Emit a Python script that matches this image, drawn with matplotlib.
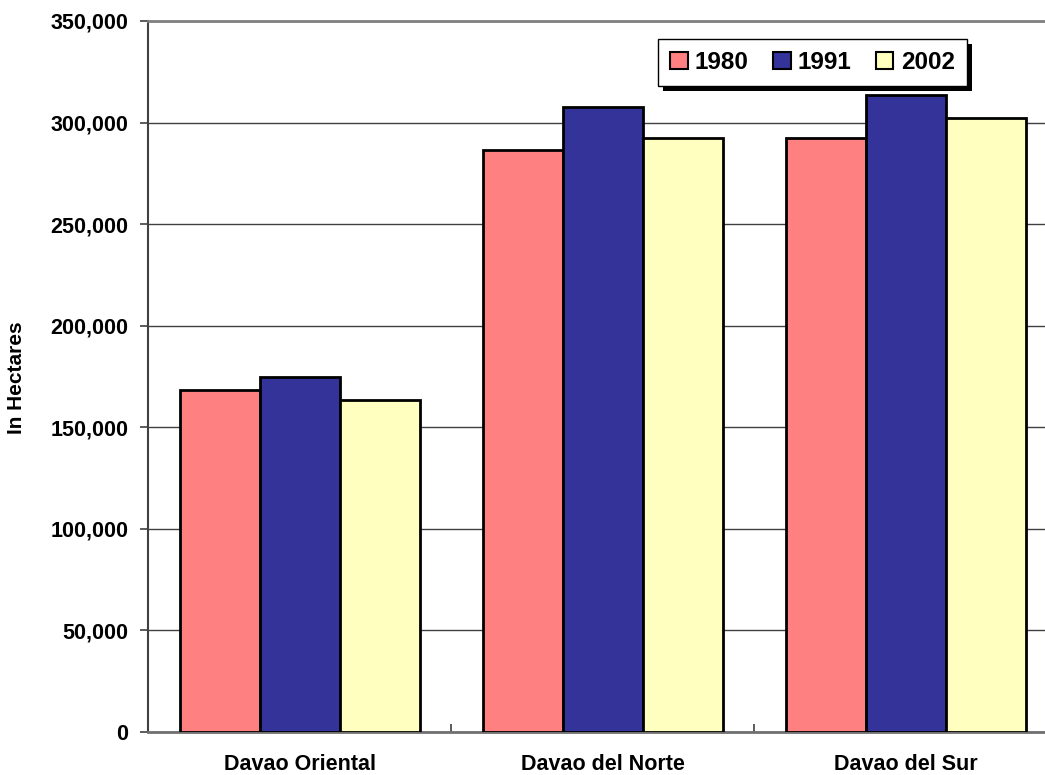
import matplotlib
matplotlib.use("Agg")
import matplotlib.pyplot as plt
from matplotlib.patches import Rectangle
from matplotlib.ticker import FuncFormatter, FixedLocator
import numpy as np

plt.rcParams['font.family'] = ['Liberation Sans', 'DejaVu Sans']
plt.rcParams['font.weight'] = 'bold'

categories = ["Davao Oriental", "Davao del Norte", "Davao del Sur"]
years = ["1980", "1991", "2002"]
values_1980 = [168400, 286500, 292600]
values_1991 = [174900, 307900, 313400]
values_2002 = [163400, 292600, 302100]
colors = ["#FF8080", "#333399", "#FFFFC0"]
y_ticks = [0, 50000, 100000, 150000, 200000, 250000, 300000, 350000]

W, H = 1045, 775
fig = plt.figure(figsize=(W / 100, H / 100), dpi=100)
ax_left, ax_bottom, ax_top = 148, 732, 21
ax = fig.add_axes([ax_left / W, (H - ax_bottom) / H, (W - ax_left) / W, (ax_bottom - ax_top) / H])

cat_px = 303.0
bar_w = 80.0 / cat_px
x = np.arange(len(categories))
series = [values_1980, values_1991, values_2002]
for i, (yr, vals, c) in enumerate(zip(years, series, colors)):
    ax.bar(x + (i - 1) * bar_w, vals, width=bar_w, color=c, edgecolor='black',
           linewidth=2.0, label=yr, zorder=3)

ax.set_xlim(-0.5, -0.5 + (W - ax_left) / cat_px)
ax.set_ylim(0, 350000)
ax.set_yticks(y_ticks)
ax.yaxis.set_major_formatter(FuncFormatter(lambda v, p: f"{int(v):,}"))
ax.tick_params(axis='y', direction='out', length=6, width=1.2, color='#404040',
               labelsize=15.5, pad=8)
for lab in ax.get_yticklabels():
    lab.set_fontweight('bold')

# x: boundary ticks (inward), labels at category centers
ax.xaxis.set_major_locator(FixedLocator([0.5, 1.5]))
ax.xaxis.set_minor_locator(FixedLocator(list(x)))
ax.set_xticklabels([], minor=False)
ax.set_xticklabels(categories, minor=True, fontsize=15.5, fontweight='bold')
ax.tick_params(axis='x', which='major', direction='in', length=6, width=1.2, color='#404040')
ax.tick_params(axis='x', which='minor', length=0, pad=16)

ax.grid(axis='y', color='#404040', linewidth=1.0, zorder=0)
ax.set_axisbelow(True)
ax.spines['right'].set_visible(False)
ax.spines['top'].set_color('#808080')
ax.spines['top'].set_linewidth(2.0)
ax.spines['left'].set_color('#404040')
ax.spines['left'].set_linewidth(1.5)
ax.spines['bottom'].set_color('#707070')
ax.spines['bottom'].set_linewidth(2.0)

fig.text(17 / W, 1 - 378 / H, "In Hectares", rotation=90, ha='center', va='center',
         fontsize=15, fontweight='bold')

leg = ax.legend(loc='upper left', bbox_to_anchor=(658 / W, 1 - 39 / H),
                bbox_transform=fig.transFigure, ncol=3, frameon=True, fancybox=False,
                framealpha=1.0, facecolor='white', edgecolor='black',
                borderaxespad=0, handlelength=0.72, handleheight=0.72,
                handletextpad=0.3, columnspacing=1.0, borderpad=0.5,
                prop={'weight': 'bold', 'size': 17.5})
leg.get_frame().set_linewidth(1.0)
leg.set_zorder(10)
for h in leg.legend_handles:
    h.set_linewidth(1.5)

fig.canvas.draw()
bb = leg.get_window_extent()
shadow = Rectangle((bb.x0 + 5, bb.y0 - 5), bb.width, bb.height, transform=None,
                   facecolor='black', edgecolor='none', zorder=9)
ax.add_artist(shadow)

fig.savefig("out.png", dpi=100)
